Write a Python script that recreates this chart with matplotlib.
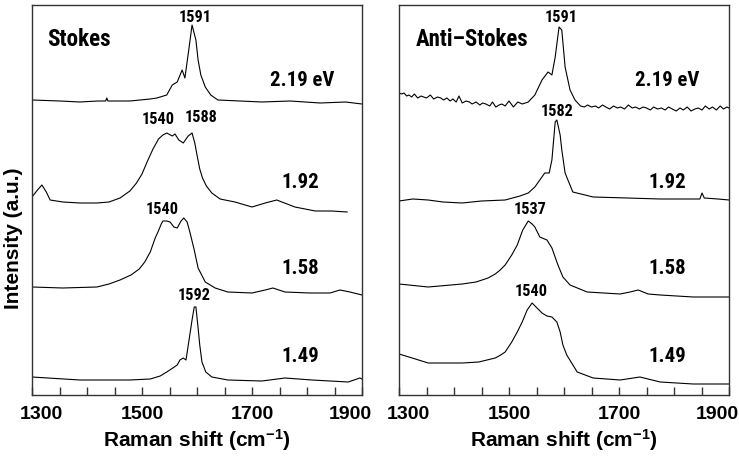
import matplotlib
matplotlib.use("Agg")
import matplotlib.pyplot as plt
from matplotlib import font_manager
from matplotlib.font_manager import FontProperties
from matplotlib.ticker import FixedLocator, MultipleLocator
from matplotlib.transforms import ScaledTranslation

# Raman shift (cm-1) / intensity (a.u., curves already offset)
stokes_219_x = [1300, 1351, 1387, 1420, 1434, 1436, 1438, 1478, 1515, 1527, 1545, 1555, 1564, 1573,
                1578, 1585, 1591, 1598, 1602, 1607, 1615, 1625, 1638, 1678, 1718, 1769, 1824, 1870, 1900]
stokes_219_y = [295, 294, 293, 294, 294, 297, 294, 294, 296, 297, 300, 310, 313, 325,
                317, 345, 370, 355, 335, 320, 308, 300, 295, 294, 293, 294, 292, 293, 291]

stokes_192_x = [1300, 1310, 1318, 1326, 1333, 1356, 1387, 1418, 1440, 1460, 1478, 1490, 1500, 1510,
                1520, 1530, 1538, 1545, 1555, 1560, 1567, 1575, 1584, 1591, 1596, 1600, 1605, 1610,
                1617, 1627, 1642, 1669, 1700, 1724, 1745, 1778, 1815, 1845, 1873]
stokes_192_y = [198, 205, 210, 203, 195, 193, 192, 192, 193, 197, 204, 212, 221, 234,
                246, 256, 260, 262, 259, 261, 255, 252, 259, 262, 252, 240, 226, 217,
                209, 202, 196, 193, 188, 192, 195, 188, 184, 184, 183]

stokes_158_x = [1300, 1356, 1418, 1440, 1460, 1480, 1495, 1505, 1515, 1524, 1529, 1535, 1538, 1545,
                1551, 1558, 1564, 1571, 1576, 1582, 1587, 1595, 1602, 1615, 1633, 1656, 1700, 1724,
                1738, 1760, 1805, 1842, 1860, 1878, 1900]
stokes_158_y = [108, 107, 108, 111, 115, 120, 126, 133, 143, 157, 163, 171, 174, 174,
                173, 168, 167, 174, 177, 173, 163, 145, 127, 113, 107, 103, 102, 105,
                107, 103, 102, 102, 105, 103, 100]

stokes_149_x = [1300, 1387, 1478, 1515, 1533, 1545, 1556, 1564, 1569, 1575, 1580, 1585, 1591, 1595,
                1598, 1602, 1605, 1609, 1616, 1627, 1656, 1718, 1760, 1809, 1875, 1896, 1900]
stokes_149_y = [18, 15, 15, 16, 19, 23, 27, 30, 35, 37, 35, 53, 75, 88,
                88, 67, 50, 33, 23, 18, 15, 14, 17, 15, 13, 17, 16]

anti_219_x = [1300, 1305, 1309, 1314, 1318, 1323, 1328, 1334, 1340, 1345, 1350, 1357, 1363, 1370,
              1376, 1381, 1387, 1393, 1398, 1404, 1409, 1415, 1422, 1428, 1433, 1440, 1447, 1452,
              1458, 1465, 1470, 1476, 1482, 1487, 1493, 1500, 1508, 1516, 1524, 1535, 1547, 1560,
              1571, 1578, 1584, 1591, 1596, 1602, 1611, 1620, 1630, 1637, 1643, 1650, 1657, 1663,
              1670, 1676, 1683, 1690, 1697, 1703, 1710, 1717, 1724, 1730, 1737, 1744, 1750, 1757,
              1763, 1770, 1777, 1784, 1790, 1797, 1804, 1811, 1817, 1824, 1831, 1838, 1844, 1851,
              1857, 1864, 1870, 1877, 1884, 1890, 1896, 1900]
anti_219_y = [302, 301, 302, 299, 300, 298, 301, 297, 299, 298, 297, 300, 296, 298,
              297, 295, 297, 294, 296, 293, 299, 292, 294, 293, 291, 293, 290, 292,
              291, 289, 293, 288, 290, 291, 289, 294, 288, 293, 291, 293, 300, 315,
              323, 320, 338, 368, 365, 328, 305, 295, 289, 288, 290, 288, 289, 287,
              290, 288, 286, 289, 287, 288, 286, 290, 287, 288, 286, 288, 287, 285,
              288, 286, 287, 285, 288, 286, 284, 287, 285, 288, 284, 286, 287, 285,
              289, 286, 288, 285, 289, 286, 288, 287]

anti_192_x = [1300, 1325, 1353, 1380, 1415, 1450, 1493, 1520, 1535, 1547, 1556, 1565, 1573, 1578,
              1584, 1587, 1593, 1596, 1602, 1616, 1653, 1715, 1775, 1820, 1847, 1851, 1855, 1880,
              1900]
anti_192_y = [194, 196, 195, 193, 192, 194, 195, 199, 202, 208, 215, 222, 222, 235,
              273, 275, 260, 245, 222, 203, 198, 197, 196, 196, 196, 202, 197, 196,
              195]

anti_158_x = [1300, 1353, 1415, 1440, 1462, 1475, 1484, 1493, 1505, 1515, 1525, 1535, 1542, 1547,
              1556, 1569, 1578, 1589, 1598, 1611, 1642, 1702, 1720, 1735, 1753, 1775, 1835, 1900]
anti_158_y = [111, 108, 111, 113, 117, 121, 125, 130, 140, 150, 165, 174, 171, 168,
              158, 155, 147, 130, 118, 110, 103, 101, 103, 105, 101, 100, 98, 98]

anti_149_x = [1300, 1324, 1353, 1415, 1445, 1475, 1485, 1493, 1505, 1515, 1524, 1533, 1542, 1551,
              1560, 1569, 1578, 1587, 1593, 1598, 1605, 1624, 1653, 1702, 1738, 1775, 1835, 1900]
anti_149_y = [41, 37, 32, 32, 33, 37, 40, 43, 53, 63, 73, 85, 92, 87,
              82, 79, 78, 73, 63, 50, 40, 23, 17, 15, 18, 13, 11, 11]

tick_values = [1300, 1500, 1700, 1900]
energies = ["2.19 eV", "1.92", "1.58", "1.49"]
energy_y = [315, 213, 127, 38]

stokes_peaks = [("1591", 1596, 378), ("1540", 1530, 275), ("1588", 1607, 277),
                ("1540", 1536, 186), ("1592", 1595, 99)]
anti_peaks = [("1591", 1595, 378), ("1582", 1587, 284), ("1537", 1538, 186), ("1540", 1540, 104)]


def condensed_bold():
    # narrow bold face for the in-plot labels
    fonts = [f for f in font_manager.fontManager.ttflist
             if f.weight in ("bold", 700) and f.style == "normal"]
    for want in ["Liberation Sans Narrow", "Roboto Condensed", "Open Sans Condensed"]:
        for f in fonts:
            if f.name == want:
                return FontProperties(fname=f.fname)
    for f in fonts:
        if "Condensed" in f.name or "Narrow" in f.name or str(f.stretch) == "condensed":
            return FontProperties(fname=f.fname)
    return FontProperties(family="Liberation Sans", weight="bold")


narrow = condensed_bold()
plt.rcParams["font.family"] = ["Liberation Sans", "DejaVu Sans"]
plt.rcParams["font.weight"] = "bold"
plt.rcParams["mathtext.default"] = "regular"

fig = plt.figure(figsize=(7.39, 4.58), dpi=100)
ax_s = fig.add_axes([32 / 739, 63 / 458, 330 / 739, 390 / 458])
ax_a = fig.add_axes([399 / 739, 63 / 458, 330 / 739, 390 / 458])
renderer = fig.canvas.get_renderer()


def fit_label(t, width_px, size):
    # pull a label part way towards the width it has in the figure
    t.set_fontsize(size)
    w = t.get_window_extent(renderer).width
    t.set_fontsize(size * (width_px / w) ** 0.4)


panels = [
    (ax_s, "Stokes", 1327, 62, [(stokes_219_x, stokes_219_y), (stokes_192_x, stokes_192_y),
                                (stokes_158_x, stokes_158_y), (stokes_149_x, stokes_149_y)], stokes_peaks, 1733),
    (ax_a, "Anti\u2013Stokes", 1331, 107, [(anti_219_x, anti_219_y), (anti_192_x, anti_192_y),
                                           (anti_158_x, anti_158_y), (anti_149_x, anti_149_y)], anti_peaks, 1729),
]

for ax, title, tx, tw, curves, peaks, ex in panels:
    for x, y in curves:
        ax.plot(x, y, color="black", lw=0.8)
    ax.set_xlim(1300, 1900)
    ax.set_ylim(0, 390)
    ax.set_yticks([])
    ax.xaxis.set_major_locator(FixedLocator(tick_values))
    ax.xaxis.set_minor_locator(MultipleLocator(50))
    ax.tick_params(axis="x", which="both", direction="in", length=6, width=1, color="#333333")
    ax.tick_params(axis="x", which="major", labelbottom=False)
    # tick labels, the outer ones pulled inwards as in the original
    for v, dx in zip(tick_values, [9, 0, 0, -12]):
        ax.text(v, -0.027, str(v), fontsize=14, fontweight="bold", ha="center", va="top",
                transform=ax.get_xaxis_transform() + ScaledTranslation(dx / 100, 0, fig.dpi_scale_trans))
    for sp in ax.spines.values():
        sp.set_color("#333333")
        sp.set_linewidth(1)
    ax.set_xlabel("Raman shift (cm$^{-1}$)", fontsize=15, fontweight="bold", labelpad=20)
    t = ax.text(tx, 356, title, fontproperties=narrow, va="center", ha="left")
    fit_label(t, tw, 17)
    for i, (lab, ey) in enumerate(zip(energies, energy_y)):
        t = ax.text(ex if i == 0 else 1753, ey, lab, fontproperties=narrow, va="center", ha="left")
        fit_label(t, 58 if i == 0 else 34, 16)
    for lab, px, py in peaks:
        t = ax.text(px, py, lab, fontproperties=narrow, va="center", ha="center")
        fit_label(t, 30, 12.5)

fig.text(14 / 739, 1 - 238 / 458, "Intensity (a.u.)", rotation=90, fontsize=15,
         fontweight="bold", va="center", ha="center")

fig.savefig("out.png", dpi=100)
